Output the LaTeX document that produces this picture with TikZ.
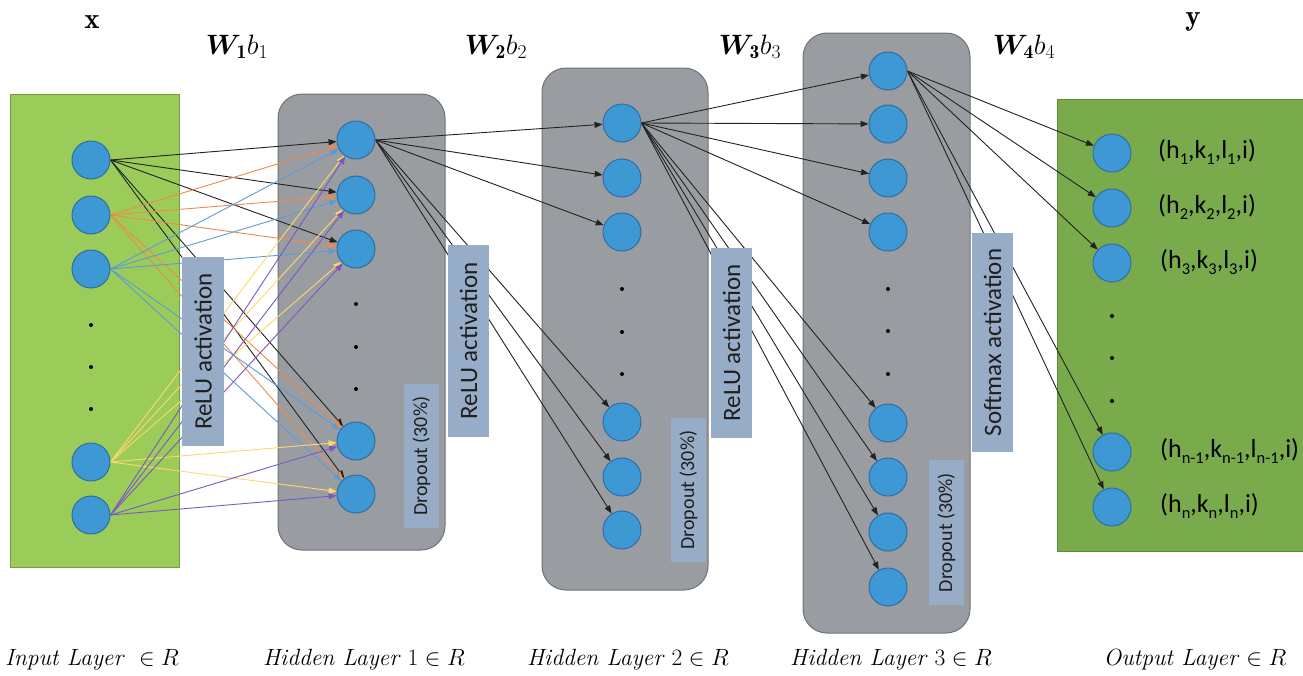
\RequirePackage{fix-cm}
\documentclass[tikz,border=0pt]{standalone}
\usepackage{amsmath,bm}
\usepackage{fontspec}
\newfontfamily\calib{Carlito}
\usetikzlibrary{arrows.meta}
\pgfdeclarelayer{bg}
\pgfdeclarelayer{lines}
\pgfdeclarelayer{acts}
\pgfsetlayers{bg,lines,acts,main}
\definecolor{nodefill}{HTML}{3D98D4}
\definecolor{nodedraw}{HTML}{2F6EA5}
\definecolor{greyfill}{HTML}{999DA1}
\definecolor{greydraw}{HTML}{6F7376}
\definecolor{actfill}{HTML}{97ADC7}
\definecolor{ingreen}{HTML}{9BCB59}
\definecolor{ingreendraw}{HTML}{71A03F}
\definecolor{outgreen}{HTML}{79AB4C}
\definecolor{outgreendraw}{HTML}{5B8B38}
\definecolor{cOrange}{HTML}{F08A4B}
\definecolor{cBlue}{HTML}{5B9BD5}
\definecolor{cYellow}{HTML}{FFD86B}
\definecolor{cPurple}{HTML}{7A57C4}
\definecolor{cBlack}{HTML}{222222}
\newcommand\mysb[1]{\raisebox{-0.22em}{\fontsize{16.5}{18}\selectfont #1}}
\begin{document}
\begin{tikzpicture}[x=1pt,y=-1pt,
  neuron/.style={circle, fill=nodefill, draw=nodedraw, line width=1pt, minimum size=38pt, inner sep=0pt},
  layerbox/.style={draw=greydraw, fill=greyfill, line width=1pt, rounded corners=24pt, inner sep=0pt},
  actbox/.style={fill=actfill, rotate=90, inner sep=0pt, text=black!88, font=\calib\fontsize{25}{30}\selectfont},
  dropbox/.style={fill=actfill, rotate=90, inner sep=0pt, text=black!88, font=\calib\fontsize{20}{24}\selectfont},
  conn/.style={line width=0.9pt, -{Triangle[length=8pt,width=6pt]}},
  dotn/.style={circle, fill=black, inner sep=0pt, minimum size=4pt},
  toplab/.style={inner sep=0pt, font=\fontsize{28}{32}\selectfont},
  botlab/.style={inner sep=0pt, font=\fontsize{23.5}{28}\selectfont},
  outlab/.style={anchor=west, inner sep=0pt, font=\calib\fontsize{26}{30}\selectfont}]
\useasboundingbox (0,0) rectangle (1303,675);

% layer boxes
\begin{pgfonlayer}{bg}
\node[draw=ingreendraw, fill=ingreen, line width=1pt, inner sep=0pt, minimum width=169pt, minimum height=473pt] (inbox) at (94.5,330.5) {};
\node[layerbox, minimum width=167pt, minimum height=456pt] (hbox1) at (361.5,322) {};
\node[layerbox, minimum width=166pt, minimum height=522pt] (hbox2) at (625,329) {};
\node[layerbox, minimum width=167pt, minimum height=600pt] (hbox3) at (886.5,333) {};
\node[draw=outgreendraw, fill=outgreen, line width=1pt, inner sep=0pt, minimum width=249pt, minimum height=452pt] (outbox) at (1181.5,325) {};
\end{pgfonlayer}

% neurons
\foreach \i/\y in {1/160,2/215,3/269,4/462,5/515} \node[neuron] (in\i) at (91,\y) {};
\foreach \i/\y in {1/140,2/195,3/249,4/441,5/494} \node[neuron] (ha\i) at (356,\y) {};
\foreach \i/\y in {1/123,2/178,3/232,4/422,5/477,6/530} \node[neuron] (hb\i) at (622,\y) {};
\foreach \i/\y in {1/71,2/124,3/178,4/232,5/423,6/477,7/532,8/587} \node[neuron] (hc\i) at (888,\y) {};
\foreach \i/\y in {1/153,2/208,3/263,4/452,5/507} \node[neuron] (out\i) at (1112,\y) {};

% dots
\foreach \k/\y in {a/325,b/367,c/409} \node[dotn] (ind\k) at (91,\y) {};
\foreach \k/\y in {a/304,b/347,c/389} \node[dotn] (had\k) at (356,\y) {};
\foreach \k/\y in {a/289,b/332,c/374} \node[dotn] (hbd\k) at (622,\y) {};
\foreach \k/\y in {a/289,b/331,c/374} \node[dotn] (hcd\k) at (888,\y) {};
\foreach \k/\y in {a/316,b/358,c/401} \node[dotn] (outd\k) at (1112,\y) {};

% connections
\begin{pgfonlayer}{lines}
\foreach \i/\c in {1/cBlack,2/cOrange,3/cBlue,4/cYellow,5/cPurple}
  \foreach \j in {1,...,5} \draw[conn,\c] (in\i.east) -- (ha\j);
\foreach \j in {1,...,6} \draw[conn,cBlack] (ha1.east) -- (hb\j);
\foreach \j in {1,...,8} \draw[conn,cBlack] (hb1.east) -- (hc\j);
\foreach \j in {1,...,5} \draw[conn,cBlack] (hc1.east) -- (out\j);
\end{pgfonlayer}

% activation and dropout boxes
\begin{pgfonlayer}{acts}
\node[actbox, minimum width=189pt, minimum height=42pt] (relu1) at (203,351.5) {ReLU activation};
\node[actbox, minimum width=192pt, minimum height=41pt] (relu2) at (468.5,341) {ReLU activation};
\node[actbox, minimum width=190pt, minimum height=41pt] (relu3) at (731.5,343) {ReLU activation};
\node[actbox, minimum width=219pt, minimum height=41pt] (soft) at (992.5,342.5) {Softmax activation};
\node[dropbox, minimum width=144pt, minimum height=35pt] (drop1) at (421.5,456) {Dropout (30\%)};
\node[dropbox, minimum width=144pt, minimum height=35pt] (drop2) at (688.5,490) {Dropout (30\%)};
\node[dropbox, minimum width=145pt, minimum height=35pt] (drop3) at (946.5,532.5) {Dropout (30\%)};
\end{pgfonlayer}

% output labels
\node[outlab] (l1) at (1158,152) {(h\mysb{1},k\mysb{1},l\mysb{1},i)};
\node[outlab] (l2) at (1158,207) {(h\mysb{2},k\mysb{2},l\mysb{2},i)};
\node[outlab] (l3) at (1160,262) {(h\mysb{3},k\mysb{3},l\mysb{3},i)};
\node[outlab] (l4) at (1160,451) {(h\mysb{n-1},k\mysb{n-1},l\mysb{n-1},i)};
\node[outlab] (l5) at (1160,506) {(h\mysb{n},k\mysb{n},l\mysb{n},i)};

% top labels
\node[toplab, font=\fontsize{29}{32}\selectfont] (xlab) at (92,22) {$\mathbf{x}$};
\node[toplab, font=\fontsize{29}{32}\selectfont] (ylab) at (1193,22) {$\mathbf{y}$};
\node[toplab] (w1) at (237,47) {$\boldsymbol{W}_{\mathbf{1}}b_1$};
\node[toplab] (w2) at (496,47) {$\boldsymbol{W}_{\mathbf{2}}b_2$};
\node[toplab] (w3) at (750,47) {$\boldsymbol{W}_{\mathbf{3}}b_3$};
\node[toplab] (w4) at (1024,47) {$\boldsymbol{W}_{\mathbf{4}}b_4$};

% bottom labels
\node[botlab] (bl1) at (92,660) {\textit{Input Layer}\ \ $\in R$};
\node[botlab] (bl2) at (364,660) {\textit{Hidden Layer} $1\in R$};
\node[botlab] (bl3) at (628,660) {\textit{Hidden Layer} $2\in R$};
\node[botlab] (bl4) at (891,660) {\textit{Hidden Layer} $3\in R$};
\node[botlab] (bl5) at (1195,660) {\textit{Output Layer} $\in R$};
\end{tikzpicture}
\end{document}
